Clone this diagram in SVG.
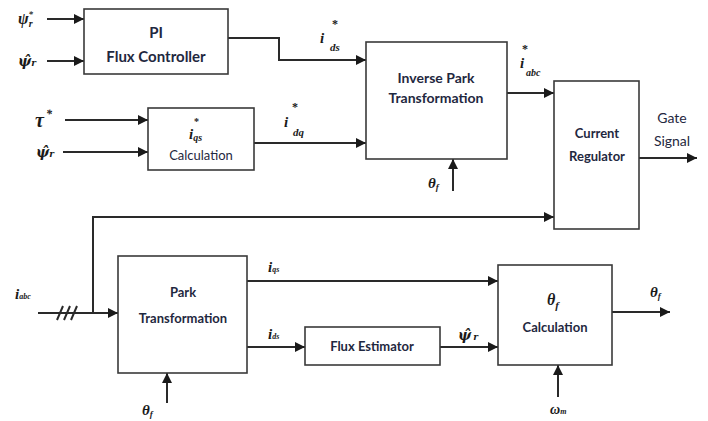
<svg xmlns="http://www.w3.org/2000/svg" width="708" height="421" viewBox="0 0 708 421">
<style>
.box{fill:#fff;stroke:#3a3a3a;stroke-width:1.6}
.w{fill:none;stroke:#2a2a2a;stroke-width:2}
.t{font-family:Lato,"Open Sans",sans-serif;font-weight:bold;fill:#1f2840;text-anchor:middle}
.n{font-weight:normal}
.m{font-family:"Liberation Serif",serif;font-style:italic;font-weight:bold;fill:#1a1a1a}
.h{font-family:"DejaVu Serif",serif;font-style:italic;font-weight:bold;fill:#1a1a1a}
.s{font-family:"Liberation Serif",serif;font-weight:bold;fill:#1a1a1a}
</style>
<defs>
<marker id="a" viewBox="0 0 10 10" refX="10" refY="5" markerWidth="5" markerHeight="5" orient="auto" markerUnits="strokeWidth">
<path d="M0,0 L10,5 L0,10 z" fill="#1a1a1a"/>
</marker>
</defs>
<rect width="708" height="421" fill="#fff"/>
<g id="connectors">
<path class="w" d="M47,19 H84" marker-end="url(#a)"/>
<path class="w" d="M47,61 H84" marker-end="url(#a)"/>
<path class="w" d="M65,120 H148" marker-end="url(#a)"/>
<path class="w" d="M63,152 H148" marker-end="url(#a)"/>
<path class="w" d="M228,38 H279 V60 H366" marker-end="url(#a)"/>
<path class="w" d="M254,143 H366" marker-end="url(#a)"/>
<path class="w" d="M453,191 V159" marker-end="url(#a)"/>
<path class="w" d="M507,93 H554" marker-end="url(#a)"/>
<path class="w" d="M639,158 H697" marker-end="url(#a)"/>
<path class="w" d="M38,313 H118" marker-end="url(#a)"/>
<path class="w" d="M93,313 V217 H554" marker-end="url(#a)"/>
<path class="w" d="M57,320 L63,306 M64,320 L70,306 M71,320 L77,306" stroke-width="1.6"/>
<path class="w" d="M167,403 V373" marker-end="url(#a)"/>
<path class="w" d="M247,281 H498" marker-end="url(#a)"/>
<path class="w" d="M247,347 H305" marker-end="url(#a)"/>
<path class="w" d="M440,347 H498" marker-end="url(#a)"/>
<path class="w" d="M612,312 H670" marker-end="url(#a)"/>
<path class="w" d="M558,397 V365" marker-end="url(#a)"/>
</g>
<g id="pi">
<rect class="box" x="84" y="9" width="144" height="65"/>
<text class="t" x="156" y="38" font-size="15">PI</text>
<text class="t" x="156" y="62" font-size="15">Flux Controller</text>
</g>
<g id="iqs-calc">
<rect class="box" x="148" y="108" width="106" height="62"/>
<text class="s" x="194" y="125" font-size="10">*</text>
<text class="m" x="189" y="139" font-size="15">i<tspan font-size="10" dy="2">qs</tspan></text>
<text class="t n" x="201" y="160" font-size="13">Calculation</text>
</g>
<g id="inv-park">
<rect class="box" x="366" y="42" width="141" height="117"/>
<text class="t" x="436" y="83" font-size="14">Inverse Park</text>
<text class="t" x="436" y="103" font-size="14">Transformation</text>
</g>
<g id="current-reg">
<rect class="box" x="554" y="81" width="85" height="148"/>
<text class="t" x="597" y="138" font-size="13">Current</text>
<text class="t" x="597" y="161" font-size="13">Regulator</text>
</g>
<g id="park">
<rect class="box" x="118" y="256" width="129" height="117"/>
<text class="t" x="183" y="297" font-size="13">Park</text>
<text class="t" x="183" y="323" font-size="13">Transformation</text>
</g>
<g id="flux-est">
<rect class="box" x="305" y="327" width="135" height="38"/>
<text class="t" x="372" y="351" font-size="13">Flux Estimator</text>
</g>
<g id="thetaf-calc">
<rect class="box" x="498" y="265" width="114" height="100"/>
<text class="m" x="547" y="305" font-size="16">θ<tspan font-size="11" dy="4">f</tspan></text>
<text class="t" x="555" y="332" font-size="13">Calculation</text>
</g>
<g id="labels">
<text class="m" x="18" y="24" font-size="16">ψ<tspan font-size="10" dy="3">r</tspan><tspan font-size="9" dy="-10" dx="-4">*</tspan></text>
<text class="h" x="18" y="66" font-size="14">ψ̂<tspan font-size="9">r</tspan></text>
<text class="m" x="35" y="127" font-size="20">τ<tspan font-size="12" dy="-9" dx="2">*</tspan></text>
<text class="h" x="36" y="157" font-size="14">ψ̂<tspan font-size="9">r</tspan></text>
<text class="m" x="320" y="43" font-size="15">i</text>
<text class="s" x="332" y="28" font-size="12">*</text>
<text class="m" x="330" y="51" font-size="11">ds</text>
<text class="m" x="284" y="127" font-size="15">i</text>
<text class="s" x="292" y="111" font-size="12">*</text>
<text class="m" x="293" y="136" font-size="11">dq</text>
<text class="m" x="520" y="68" font-size="15">i</text>
<text class="s" x="522" y="53" font-size="12">*</text>
<text class="m" x="526" y="76" font-size="10">abc</text>
<text class="m" x="428" y="188" font-size="15">θ<tspan font-size="9" dy="2">f</tspan></text>
<text class="t n" x="672" y="123" font-size="14" fill="#111">Gate</text>
<text class="t n" x="672" y="146" font-size="14" fill="#111">Signal</text>
<text class="m" x="15" y="299" font-size="15">i<tspan font-size="8">abc</tspan></text>
<text class="m" x="142" y="415" font-size="15">θ<tspan font-size="9" dy="2">f</tspan></text>
<text class="m" x="268" y="272" font-size="15">i<tspan font-size="8">qs</tspan></text>
<text class="m" x="268" y="339" font-size="15">i<tspan font-size="8">ds</tspan></text>
<text class="h" x="458" y="340" font-size="14">ψ̂<tspan font-size="9" dx="2">r</tspan></text>
<text class="m" x="650" y="297" font-size="15">θ<tspan font-size="9" dy="2">f</tspan></text>
<text class="m" x="550" y="414" font-size="14">ω<tspan font-size="8">m</tspan></text>
</g>
</svg>
